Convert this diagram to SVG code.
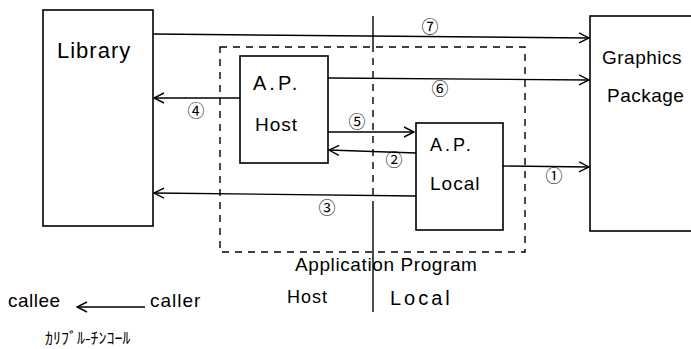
<svg xmlns="http://www.w3.org/2000/svg" width="691" height="349" viewBox="0 0 691 349">
<style>
.box{fill:none;stroke:#000;stroke-width:1.6}
.ln{fill:none;stroke:#000;stroke-width:1.4}
.dash{fill:none;stroke:#000;stroke-width:1.4;stroke-dasharray:7 6}
.t{font-family:"Liberation Sans","DejaVu Sans",sans-serif;fill:#000}
.n{font-family:"Noto Sans CJK JP","DejaVu Sans",sans-serif;font-size:17px;fill:#000;text-anchor:middle}
.k{font-family:"Noto Sans CJK JP",sans-serif;fill:#000}
</style>
<defs>
<marker id="ah" viewBox="0 0 12 12" refX="11" refY="6" markerWidth="12" markerHeight="12" markerUnits="userSpaceOnUse" orient="auto">
<polyline points="1,1 11,6 1,11" fill="none" stroke="#000" stroke-width="1.4"/>
</marker>
</defs>
<rect width="691" height="349" fill="#fff"/>
<g id="library"><rect class="box" x="43" y="10" width="110" height="216"/><text class="t" x="57" y="58" font-size="22" letter-spacing="1">Library</text></g>
<g id="graphics"><rect class="box" x="590" y="16" width="110" height="215"/><text class="t" x="602" y="64" font-size="19" letter-spacing="0.5">Graphics</text><text class="t" x="607" y="102" font-size="19" letter-spacing="0.5">Package</text></g>
<g id="app-program"><rect class="dash" x="220" y="47" width="305" height="205"/><text class="t" x="295" y="271" font-size="19" letter-spacing="0.6">Application Program</text></g>
<g id="ap-host"><rect class="box" x="240" y="56" width="88" height="107"/><text class="t" x="253" y="90" font-size="20" letter-spacing="3">A.P.</text><text class="t" x="255" y="131" font-size="19" letter-spacing="1">Host</text></g>
<g id="ap-local"><rect class="box" x="416" y="123" width="87" height="107"/><text class="t" x="430" y="151" font-size="18" letter-spacing="3">A.P.</text><text class="t" x="430" y="190" font-size="19" letter-spacing="1">Local</text></g>
<g id="divider"><path class="ln" d="M373,16V45M373,205V312"/><path class="dash" d="M373,45V205"/><text class="t" x="287" y="303" font-size="18" letter-spacing="1">Host</text><text class="t" x="390" y="305" font-size="20" letter-spacing="3">Local</text></g>
<g id="connectors">
<line class="ln" x1="153" y1="34" x2="589" y2="38" marker-end="url(#ah)"/>
<line class="ln" x1="328" y1="78" x2="589" y2="80" marker-end="url(#ah)"/>
<line class="ln" x1="240" y1="98" x2="154" y2="98" marker-end="url(#ah)"/>
<line class="ln" x1="328" y1="132" x2="414" y2="132" marker-end="url(#ah)"/>
<line class="ln" x1="416" y1="153" x2="329" y2="150" marker-end="url(#ah)"/>
<line class="ln" x1="503" y1="166" x2="589" y2="167" marker-end="url(#ah)"/>
<line class="ln" x1="416" y1="196" x2="154" y2="193" marker-end="url(#ah)"/>
<text class="n" x="430" y="33">⑦</text>
<text class="n" x="440" y="95">⑥</text>
<text class="n" x="196" y="117">④</text>
<text class="n" x="357" y="128">⑤</text>
<text class="n" x="394" y="166">②</text>
<text class="n" x="554" y="182">①</text>
<text class="n" x="327" y="214">③</text>
</g>
<g id="legend">
<text class="t" x="8" y="307" font-size="19" letter-spacing="0.5">callee</text>
<line class="ln" x1="145" y1="307" x2="77" y2="307" marker-end="url(#ah)"/>
<text class="t" x="150" y="307" font-size="19" letter-spacing="1">caller</text>
<text class="k" x="45" y="344" font-size="16">ｶﾘﾌﾞﾙ-ﾁﾝｺｰﾙ</text>
</g>
</svg>
